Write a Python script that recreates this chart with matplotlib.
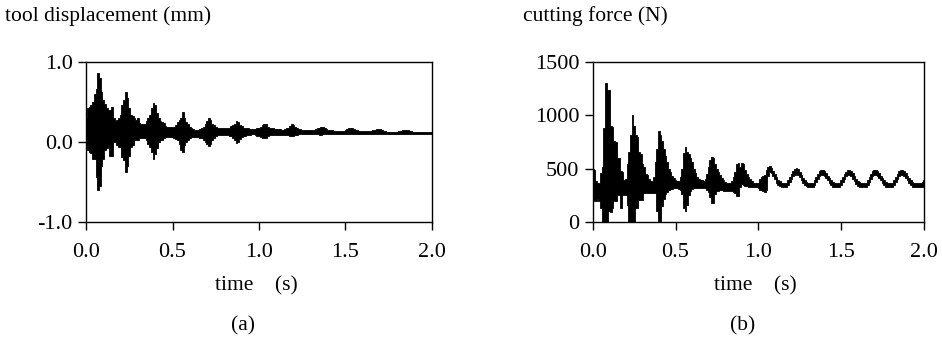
import numpy as np
import matplotlib
matplotlib.use("Agg")
import matplotlib.pyplot as plt

# time axis (s), sampled every 0.01 s
time_s = np.round(np.arange(0, 201) * 0.01, 2)

# (a) tool displacement (mm): upper / lower envelope of the oscillation
disp_upper = [
    0.30, 0.42, 0.44, 0.46, 0.50, 0.60, 0.66, 0.86, 0.80, 0.62,
    0.52, 0.48, 0.42, 0.40, 0.40, 0.44, 0.30, 0.26, 0.28, 0.30,
    0.34, 0.46, 0.52, 0.63, 0.55, 0.42, 0.34, 0.32, 0.30, 0.28,
    0.30, 0.24, 0.22, 0.22, 0.22, 0.26, 0.30, 0.34, 0.42, 0.49,
    0.46, 0.36, 0.30, 0.26, 0.25, 0.24, 0.20, 0.19, 0.19, 0.19,
    0.19, 0.19, 0.21, 0.25, 0.27, 0.30, 0.375, 0.30, 0.25, 0.22,
    0.19, 0.18, 0.16, 0.15, 0.15, 0.15, 0.16, 0.17, 0.19, 0.23,
    0.26, 0.30, 0.28, 0.23, 0.21, 0.19, 0.18, 0.18, 0.17, 0.17,
    0.17, 0.17, 0.17, 0.18, 0.20, 0.21, 0.23, 0.26, 0.25, 0.21,
    0.20, 0.18, 0.18, 0.17, 0.17, 0.16, 0.16, 0.16, 0.16, 0.17,
    0.18, 0.19, 0.21, 0.22, 0.22, 0.19, 0.18, 0.17, 0.17, 0.165,
    0.16, 0.16, 0.16, 0.155, 0.155, 0.16, 0.17, 0.18, 0.20, 0.22,
    0.21, 0.19, 0.17, 0.16, 0.16, 0.155, 0.15, 0.15, 0.15, 0.15,
    0.15, 0.15, 0.155, 0.16, 0.17, 0.18, 0.19, 0.185, 0.17, 0.16,
    0.15, 0.15, 0.145, 0.14, 0.14, 0.14, 0.14, 0.14, 0.14, 0.14,
    0.145, 0.16, 0.17, 0.18, 0.175, 0.16, 0.15, 0.145, 0.14, 0.135,
    0.135, 0.135, 0.14, 0.14, 0.14, 0.14, 0.145, 0.15, 0.16, 0.165,
    0.16, 0.15, 0.14, 0.135, 0.13, 0.13, 0.13, 0.13, 0.13, 0.13,
    0.13, 0.135, 0.14, 0.145, 0.15, 0.155, 0.15, 0.14, 0.135, 0.13,
    0.13, 0.13, 0.13, 0.13, 0.13, 0.13, 0.13, 0.13, 0.13, 0.13, 0.13,
]
disp_lower = [
    -0.04, -0.10, -0.12, -0.14, -0.21, -0.21, -0.44, -0.60, -0.55, -0.30,
    -0.21, -0.10, -0.08, -0.04, -0.18, -0.18, 0.00, 0.00, -0.04, -0.06,
    -0.06, -0.19, -0.22, -0.37, -0.30, -0.17, -0.06, -0.04, 0.02, 0.02,
    0.03, 0.045, 0.045, 0.045, 0.045, 0.02, -0.03, -0.06, -0.12, -0.21,
    -0.15, -0.08, 0.00, 0.02, 0.03, 0.05, 0.06, 0.065, 0.065, 0.065,
    0.06, 0.05, 0.04, 0.02, -0.02, -0.10, -0.13, -0.04, 0.00, 0.03,
    0.05, 0.06, 0.065, 0.065, 0.065, 0.06, 0.055, 0.05, 0.03, 0.00,
    -0.03, -0.045, -0.02, 0.03, 0.05, 0.07, 0.085, 0.085, 0.09, 0.09,
    0.09, 0.09, 0.09, 0.08, 0.07, 0.05, 0.02, -0.01, 0.00, 0.04,
    0.06, 0.07, 0.08, 0.09, 0.09, 0.09, 0.095, 0.095, 0.09, 0.08,
    0.07, 0.06, 0.05, 0.044, 0.05, 0.07, 0.085, 0.09, 0.09, 0.09,
    0.09, 0.09, 0.09, 0.09, 0.09, 0.09, 0.088, 0.085, 0.08, 0.078,
    0.08, 0.085, 0.09, 0.094, 0.094, 0.094, 0.094, 0.094, 0.094, 0.094,
    0.095, 0.095, 0.094, 0.094, 0.094, 0.092, 0.09, 0.094, 0.096, 0.098,
    0.10, 0.10, 0.10, 0.10, 0.10, 0.10, 0.10, 0.10, 0.10, 0.10,
    0.10, 0.10, 0.10, 0.095, 0.095, 0.10, 0.105, 0.105, 0.105, 0.10,
    0.10, 0.10, 0.10, 0.10, 0.10, 0.10, 0.10, 0.10, 0.098, 0.098,
    0.10, 0.10, 0.10, 0.10, 0.10, 0.10, 0.10, 0.10, 0.10, 0.10,
    0.10, 0.10, 0.10, 0.10, 0.10, 0.10, 0.10, 0.10, 0.10, 0.10,
    0.10, 0.10, 0.10, 0.10, 0.10, 0.10, 0.10, 0.10, 0.10, 0.10, 0.10,
]

# (b) cutting force (N): upper / lower envelope
force_upper = [
    500, 490, 380, 370, 370, 460, 520, 880, 1300, 1240,
    1240, 900, 890, 760, 750, 600, 600, 480, 470, 390,
    400, 540, 660, 820, 1000, 900, 820, 800, 660, 640,
    540, 520, 450, 440, 400, 380, 380, 420, 560, 680,
    850, 820, 760, 680, 620, 560, 500, 470, 430, 410,
    395, 385, 385, 420, 500, 650, 700, 660, 640, 600,
    560, 500, 460, 420, 400, 396, 390, 385, 400, 450,
    520, 580, 614, 600, 540, 500, 470, 440, 410, 390,
    375, 365, 365, 365, 380, 420, 470, 540, 552, 520,
    552, 540, 490, 450, 420, 400, 380, 370, 365, 365,
    365, 400, 420, 430, 440, 490, 515, 527, 510, 480,
    450, 420, 398, 380, 368, 365, 365, 368, 390, 420,
    450, 478, 495, 505, 495, 470, 440, 415, 395, 378,
    368, 365, 365, 368, 390, 420, 450, 475, 488, 490,
    480, 460, 435, 410, 390, 375, 366, 365, 365, 368,
    390, 420, 450, 472, 485, 485, 475, 455, 430, 405,
    388, 374, 366, 365, 365, 368, 390, 420, 450, 475,
    488, 490, 480, 460, 435, 410, 390, 375, 366, 365,
    365, 368, 390, 420, 450, 475, 488, 490, 480, 460,
    435, 410, 390, 375, 366, 365, 365, 365, 368, 375, 390,
]
force_lower = [
    200, 210, 200, 220, 200, 130, 0, 0, 0, 0,
    100, 90, 130, 200, 200, 255, 250, 130, 250, 255,
    255, 160, 0, 0, 0, 0, 130, 130, 210, 210,
    210, 270, 270, 270, 270, 270, 270, 270, 270, 100,
    10, 10, 150, 220, 260, 280, 300, 310, 310, 315,
    315, 315, 310, 300, 260, 130, 100, 160, 250, 290,
    310, 318, 318, 318, 318, 318, 318, 318, 315, 300,
    280, 230, 180, 180, 260, 290, 295, 300, 300, 295,
    290, 290, 290, 290, 290, 285, 270, 240, 245, 330,
    360, 350, 340, 335, 330, 325, 325, 325, 325, 325,
    322, 300, 300, 290, 277, 300, 430, 470, 460, 430,
    400, 370, 350, 335, 325, 325, 325, 325, 345, 375,
    405, 430, 445, 455, 445, 420, 395, 370, 350, 335,
    325, 325, 325, 325, 345, 375, 405, 430, 440, 445,
    435, 410, 390, 365, 345, 330, 325, 325, 325, 325,
    345, 375, 405, 428, 440, 440, 428, 405, 385, 360,
    342, 330, 325, 325, 325, 325, 345, 375, 405, 430,
    440, 445, 435, 412, 390, 365, 345, 330, 325, 325,
    325, 325, 345, 375, 405, 430, 440, 445, 435, 412,
    390, 365, 345, 330, 325, 325, 325, 325, 325, 330, 340,
]

x_ticks = [0.0, 0.5, 1.0, 1.5, 2.0]
x_ticklabels = ["0.0", "0.5", "1.0", "1.5", "2.0"]
a_yticks = [-1.0, 0.0, 1.0]
a_yticklabels = ["-1.0", "0.0", "1.0"]
b_yticks = [0, 500, 1000, 1500]
b_yticklabels = ["0", "500", "1000", "1500"]

FONT = "Liberation Serif"
plt.rcParams["font.family"] = [FONT, "DejaVu Serif"]

W, H = 942, 340
fig = plt.figure(figsize=(W / 100, H / 100), dpi=100)
fig.patch.set_facecolor("white")

axa = fig.add_axes([86 / W, 118 / H, 346 / W, 160 / H])
axb = fig.add_axes([592.7 / W, 118 / H, 331.3 / W, 160 / H])

def style(ax, yticks, yticklabels, ylim):
    ax.set_xlim(0, 2.0)
    ax.set_ylim(*ylim)
    ax.set_xticks(x_ticks)
    ax.set_xticklabels(x_ticklabels)
    ax.set_yticks(yticks)
    ax.set_yticklabels(yticklabels)
    ax.tick_params(direction="out", length=5.5, width=1.0, labelsize=16,
                   top=False, right=False, colors="black")
    ax.tick_params(axis="x", pad=9.5)
    ax.tick_params(axis="y", pad=4)
    for s in ax.spines.values():
        s.set_linewidth(1.0)
        s.set_color("black")

axa.fill_between(time_s, disp_lower, disp_upper, step="mid",
                 facecolor="black", edgecolor="black", linewidth=0.6)
style(axa, a_yticks, a_yticklabels, (-1.0, 1.0))

axb.fill_between(time_s, force_lower, force_upper, step="mid",
                 facecolor="black", edgecolor="black", linewidth=0.6)
style(axb, b_yticks, b_yticklabels, (0, 1500))

fs = 15.5
fig.text(5 / W, 1 - 21 / H, "tool displacement (mm)", fontsize=fs,
         ha="left", va="baseline")
fig.text(523 / W, 1 - 21 / H, "cutting force (N)", fontsize=fs,
         ha="left", va="baseline")
fig.text(256.7 / W, 1 - 290 / H, "time    (s)", fontsize=fs,
         ha="center", va="baseline")
fig.text(755 / W, 1 - 290 / H, "time    (s)", fontsize=fs,
         ha="center", va="baseline")
fig.text(242.5 / W, 1 - 330 / H, "(a)", fontsize=fs,
         ha="center", va="baseline")
fig.text(743 / W, 1 - 330 / H, "(b)", fontsize=fs,
         ha="center", va="baseline")

fig.savefig("out.png", dpi=100, facecolor="white")
